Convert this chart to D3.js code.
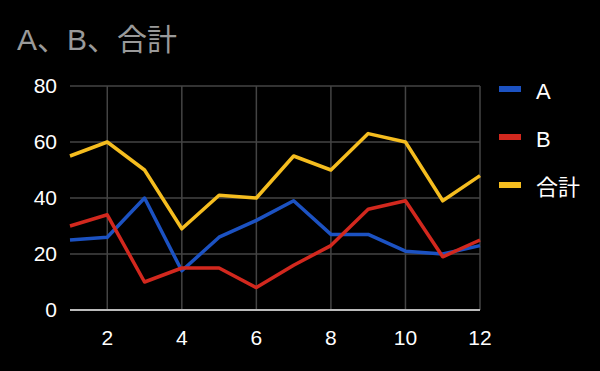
<!DOCTYPE html>
<html>
<head>
<meta charset="utf-8">
<script src="https://cdn.jsdelivr.net/npm/d3@7"></script>
<style>
  body { margin: 0; background: #000; }
  text { font-family: "Liberation Sans", Arial, "Noto Sans CJK JP", sans-serif; }
</style>
</head>
<body>
<script>
// data
var months = [1, 2, 3, 4, 5, 6, 7, 8, 9, 10, 11, 12];
var seriesA = [25, 26, 40, 14, 26, 32, 39, 27, 27, 21, 20, 23];
var seriesB = [30, 34, 10, 15, 15, 8, 16, 23, 36, 39, 19, 25];
var total = [55, 60, 50, 29, 41, 40, 55, 50, 63, 60, 39, 48];
var names = ["A", "B", "合計"];
var xTicks = [2, 4, 6, 8, 10, 12];
var yTicks = [0, 20, 40, 60, 80];

var colors = ["#1c52c2", "#d2281e", "#f5bd1f"];
var width = 600, height = 371;

var svg = d3.select("body").append("svg")
    .attr("width", width)
    .attr("height", height)
    .style("background-color", "#000");

var x = d3.scaleLinear().domain([1, 12]).range([70, 480]);
var y = d3.scaleLinear().domain([0, 80]).range([310, 86]);

// title
svg.append("text")
    .attr("x", 17).attr("y", 50)
    .attr("fill", "#9a9a9a")
    .style("font-size", "30px")
    .text("A、B、合計");

// horizontal grid
svg.append("g").selectAll("line").data(yTicks.filter(function(d){ return d > 0; }))
  .join("line")
    .attr("x1", x(1)).attr("x2", x(12))
    .attr("y1", function(d){ return y(d); }).attr("y2", function(d){ return y(d); })
    .attr("stroke", "#444").attr("stroke-width", 1.5);

// vertical grid
svg.append("g").selectAll("line").data(xTicks)
  .join("line")
    .attr("x1", function(d){ return x(d); }).attr("x2", function(d){ return x(d); })
    .attr("y1", y(80)).attr("y2", y(0))
    .attr("stroke", "#444").attr("stroke-width", 1.5);

// baseline
svg.append("line")
    .attr("x1", x(1)).attr("x2", x(12))
    .attr("y1", y(0)).attr("y2", y(0))
    .attr("stroke", "#bbb").attr("stroke-width", 2);

// y labels
svg.append("g").selectAll("text").data(yTicks)
  .join("text")
    .attr("x", 57).attr("y", function(d){ return y(d); })
    .attr("dy", "0.35em")
    .attr("text-anchor", "end")
    .attr("fill", "#fff")
    .style("font-size", "21px")
    .text(function(d){ return d; });

// x labels
svg.append("g").selectAll("text").data(xTicks)
  .join("text")
    .attr("x", function(d){ return x(d); }).attr("y", 345)
    .attr("text-anchor", "middle")
    .attr("fill", "#fff")
    .style("font-size", "21px")
    .text(function(d){ return d; });

// lines
var all = [seriesA, seriesB, total];
var line = d3.line()
    .x(function(d, i){ return x(months[i]); })
    .y(function(d){ return y(d); });

svg.append("g").selectAll("path").data(all)
  .join("path")
    .attr("d", line)
    .attr("fill", "none")
    .attr("stroke", function(d, i){ return colors[i]; })
    .attr("stroke-width", 3.5)
    .attr("stroke-linejoin", "round");

// legend
var leg = svg.append("g").selectAll("g").data(names)
  .join("g")
    .attr("transform", function(d, i){ return "translate(499," + [89, 137, 185][i] + ")"; });

leg.append("rect")
    .attr("x", 0).attr("y", -3)
    .attr("width", 22).attr("height", 6)
    .attr("fill", function(d, i){ return colors[i]; });

leg.append("text")
    .attr("x", 37).attr("y", 2)
    .attr("dy", "0.38em")
    .attr("fill", "#fff")
    .style("font-size", "22px")
    .text(function(d){ return d; });
</script>
</body>
</html>
